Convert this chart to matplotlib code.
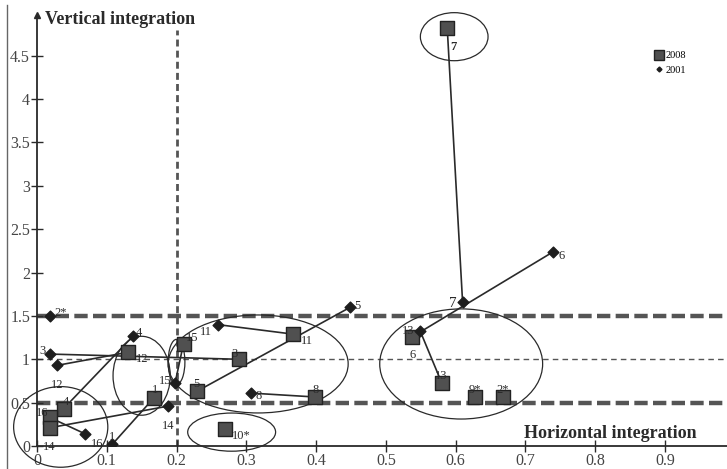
import matplotlib
matplotlib.use("Agg")
import matplotlib.pyplot as plt
from matplotlib.patches import Ellipse
from matplotlib.lines import Line2D

# ---------------- data ----------------
ids_2008 = ['7', '13', '6', '9*', '2*', '11', '3', '5', '8', '10*', '15', '1', '4', '12', '16', '14']
x_2008 = [0.588, 0.580, 0.538, 0.628, 0.668, 0.367, 0.289, 0.229, 0.399, 0.269, 0.210, 0.167, 0.038, 0.130, 0.018, 0.018]
y_2008 = [4.82, 0.73, 1.26, 0.565, 0.565, 1.29, 1.00, 0.63, 0.565, 0.196, 1.18, 0.55, 0.43, 1.08, 0.33, 0.21]

ids_2001 = ['7', '6', '13', '2*', '11', '3', '5', '8', '15', '1', '4', '12', '16', '14']
x_2001 = [0.610, 0.740, 0.549, 0.019, 0.259, 0.019, 0.449, 0.307, 0.198, 0.108, 0.138, 0.029, 0.069, 0.188]
y_2001 = [1.66, 2.24, 1.33, 1.50, 1.40, 1.06, 1.60, 0.61, 0.73, 0.02, 1.27, 0.93, 0.14, 0.46]

x_ticks = [0, 0.1, 0.2, 0.3, 0.4, 0.5, 0.6, 0.7, 0.8, 0.9]
x_ticklabels = ['0', '0.1', '0.2', '0.3', '0.4', '0.5', '0.6', '0.7', '0.8', '0.9']
y_ticks = [0, 0.5, 1, 1.5, 2, 2.5, 3, 3.5, 4, 4.5]
y_ticklabels = ['0', '0.5', '1', '1.5', '2', '2.5', '3', '3.5', '4', '4.5']

# threshold lines
h_thick = [0.5, 1.5]
h_thin = [1.0]
v_line = 0.2

# cluster ellipses: (cx, cy, width, height)
ellipses = [
    (0.598, 4.72, 0.097, 0.554),
    (0.608, 0.946, 0.2335, 1.27),
    (0.317, 0.946, 0.258, 1.13),
    (0.200, 0.97, 0.024, 0.52),
    (0.150, 0.81, 0.082, 0.91),
    (0.034, 0.22, 0.135, 0.93),
    (0.279, 0.16, 0.126, 0.44),
]

# label offsets (points)
off_2008 = {'7': (2, -14, 'left'), '13': (0, 5, 'center'), '6': (0, -13, 'center'),
            '9*': (0, 5, 'center'), '2*': (0, 5, 'center'), '11': (6, -5, 'left'),
            '3': (-3, 4, 'center'), '5': (0, 5, 'center'), '8': (0, 5, 'center'),
            '10*': (5, -5, 'left'), '15': (2, 4, 'left'), '1': (1, 6, 'center'),
            '4': (2, 5, 'center'), '12': (6, -5, 'left'), '16': (-5, 3, 'center'),
            '14': (0, -14, 'center')}
off_2001 = {'7': (-4, -1, 'right'), '6': (4, -3, 'left'), '13': (-4, 0, 'right'),
            '2*': (3, 2, 'left'), '11': (-4, -5, 'right'), '3': (-3, 2, 'right'),
            '5': (3, 1, 'left'), '8': (3, -2, 'left'), '15': (-3, 1, 'right'),
            '1': (0, 5, 'center'), '4': (2, 2, 'left'), '12': (0, -14, 'center'),
            '16': (4, -7, 'left'), '14': (0, -14, 'center')}

# ---------------- figure ----------------
plt.rcParams['font.family'] = ['Liberation Serif', 'DejaVu Serif']
W, H = 727, 469
fig = plt.figure(figsize=(W / 100, H / 100), dpi=100)
ax = fig.add_axes([37 / W, 1 - 446 / H, (W - 37) / W, (446 - 15) / H])
ax.set_xlim(0, 0.989)
ax.set_ylim(0, 4.97)

dark = '#2a2a2a'
gray = '#555555'

for s in ['top', 'right']:
    ax.spines[s].set_visible(False)
for s in ['left', 'bottom']:
    ax.spines[s].set_color(dark)
    ax.spines[s].set_linewidth(1.3)

ax.set_xticks(x_ticks)
ax.set_xticklabels(x_ticklabels)
ax.set_yticks(y_ticks)
ax.set_yticklabels(y_ticklabels)
ax.tick_params(direction='inout', length=8, width=1.0, colors=dark, labelsize=11.5,
               labelcolor='#444444', pad=1)

# arrow on y axis
ax.plot([0], [4.97], marker='^', color=dark, markersize=5, clip_on=False, zorder=5)

# thresholds
for yv in h_thick:
    ax.axhline(yv, color=gray, lw=3.2, ls=(0, (3.0, 1.2)), zorder=1)
for yv in h_thin:
    ax.axhline(yv, color=gray, lw=1.0, ls=(0, (4, 3)), zorder=1)
ax.plot([v_line, v_line], [0, 4.8], color=gray, lw=2.0, ls=(0, (2.5, 1.5)), zorder=1)

# ellipses
for cx, cy, w, h in ellipses:
    ax.add_patch(Ellipse((cx, cy), w, h, fill=False, ec=dark, lw=0.9, clip_on=False, zorder=2))

# connecting lines
pos08 = dict(zip(ids_2008, zip(x_2008, y_2008)))
pos01 = dict(zip(ids_2001, zip(x_2001, y_2001)))
for k in ids_2001:
    if k in pos08 and not k.endswith('*'):
        ax.plot([pos01[k][0], pos08[k][0]], [pos01[k][1], pos08[k][1]], color=dark, lw=1.2, zorder=3)

ax.scatter(x_2008, y_2008, marker='s', s=95, c='#505050', edgecolors='#222222', linewidths=1.0, zorder=4)
ax.scatter(x_2001, y_2001, marker='D', s=30, c='#1e1e1e', edgecolors='#1e1e1e', zorder=4)

for k, x, y in zip(ids_2008, x_2008, y_2008):
    dx, dy, ha = off_2008[k]
    ax.annotate(k, (x, y), xytext=(dx, dy), textcoords='offset points', ha=ha, va='center',
                fontsize=9, color=dark, zorder=6, fontweight='bold' if k == '7' else 'normal')
for k, x, y in zip(ids_2001, x_2001, y_2001):
    dx, dy, ha = off_2001[k]
    ax.annotate(k, (x, y), xytext=(dx, dy), textcoords='offset points', ha=ha, va='center',
                fontsize=9 if k != '7' else 11, color=dark, zorder=6)

# axis titles
fig.text(45 / W, 1 - 20 / H, 'Vertical integration', fontsize=13, fontweight='bold', color=dark,
         ha='left', va='center')
fig.text(697 / W, 1 - 433 / H, 'Horizontal integration', fontsize=13, fontweight='bold', color=dark,
         ha='right', va='center')

# legend
handles = [Line2D([], [], ls='none', marker='s', markersize=7, mfc='#505050', mec='#222222', label='2008'),
           Line2D([], [], ls='none', marker='D', markersize=2.5, mfc='#1e1e1e', mec='#1e1e1e', label='2001')]
fig.legend(handles=handles, loc='upper left', bbox_to_anchor=(650 / W, 1 - 46 / H), frameon=False,
           fontsize=7.5, handlelength=0.8, handletextpad=0.2, labelspacing=0.5, borderpad=0)

# left border line
fig.add_artist(Line2D([7 / W, 7 / W], [0, 0.99], color='#666666', lw=1.0))

fig.savefig('out.png', dpi=100, facecolor='white')
